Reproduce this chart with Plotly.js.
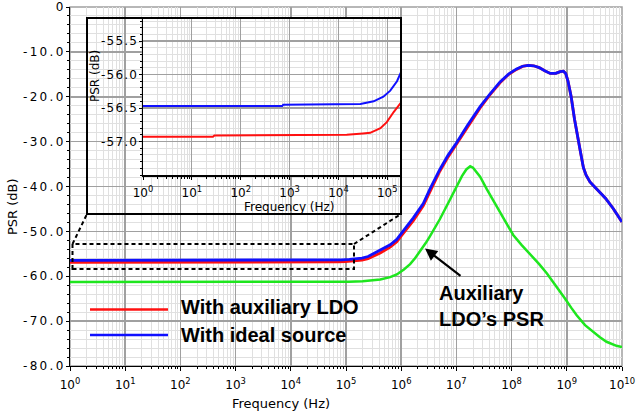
<!DOCTYPE html>
<html>
<head>
<meta charset="utf-8">
<script src="https://cdn.plot.ly/plotly-3.0.1.min.js"></script>
<style>
  html, body { margin: 0; padding: 0; background: #fff; }
  #chart { width: 644px; height: 419px; }
  .ytick text { letter-spacing: 2.3px; }
  .y2tick text { letter-spacing: 1.2px; }
</style>
</head>
<body>
<div id="chart"></div>
<script>
// ---- data (frequency in Hz, PSR in dB) ----
const freqIdeal = [1, 708, 741, 1e4, 2.82e4, 5.25e4, 8.32e4, 1.15e5, 1.58e5, 1.95e5,
  2.51e5, 3.09e5, 4.17e5, 6.31e5, 8.32e5, 1.02e6, 1.26e6, 1.66e6, 2.51e6, 3.31e6,
  5.01e6, 7.08e6, 1e7, 1.58e7, 2.69e7, 3.98e7, 6.17e7, 8.91e7, 1.23e8, 1.58e8,
  2e8, 2.51e8, 3.16e8, 3.98e8, 5.01e8, 6.31e8, 7.59e8, 8.71e8, 9.55e8, 1.05e9,
  1.2e9, 1.38e9, 1.58e9, 1.78e9, 2e9, 2.24e9, 2.63e9, 3.16e9, 3.98e9, 5.01e9,
  6.92e9, 8.32e9, 1e10];
const psrIdeal = [-56.47, -56.47, -56.45, -56.45, -56.44, -56.40, -56.33, -56.24, -56.10, -55.95,
  -55.6, -55.0, -54.2, -53.0, -51.8, -50.3, -48.9, -47.0, -43.8, -40.6,
  -36.2, -33.0, -30.3, -26.4, -22.2, -19.5, -16.7, -14.9, -13.8, -13.2,
  -13.0, -13.1, -13.5, -14.2, -14.8, -14.8, -14.4, -14.3, -14.8, -16.5,
  -20, -25, -29.5, -32.5, -35.8, -37.5, -39.0, -40.0, -41.2, -42.6,
  -44.9, -46.5, -47.9];

const freqAux = [1, 27, 29, 1e4, 1.48e4, 3.16e4, 4.47e4, 7.24e4, 9.77e4, 1.35e5,
  1.95e5, 2.51e5, 3.09e5, 4.17e5, 6.31e5, 8.32e5, 1.02e6, 1.26e6, 1.66e6, 2.51e6,
  3.31e6, 5.01e6, 7.08e6, 1e7, 1.58e7, 2.69e7, 3.98e7, 6.17e7, 8.91e7, 1.23e8,
  1.58e8, 2e8, 2.51e8, 3.16e8, 3.98e8, 5.01e8, 6.31e8, 7.59e8, 8.71e8, 9.55e8,
  1.05e9, 1.2e9, 1.38e9, 1.58e9, 1.78e9, 2e9, 2.24e9, 2.63e9, 3.16e9, 3.98e9,
  5.01e9, 6.92e9, 8.32e9, 1e10];
const psrAux = [-56.93, -56.93, -56.91, -56.91, -56.90, -56.88, -56.87, -56.80, -56.71, -56.56,
  -56.41, -56.1, -55.6, -54.8, -53.5, -52.3, -50.9, -49.5, -47.6, -44.3,
  -41.1, -36.6, -33.4, -30.6, -26.7, -22.5, -19.7, -16.9, -15.0, -13.9,
  -13.25, -13.0, -13.1, -13.5, -14.2, -14.8, -14.8, -14.4, -14.3, -14.8,
  -16.5, -20, -25, -29.5, -32.5, -35.8, -37.5, -39.0, -40.0, -41.2,
  -42.6, -44.9, -46.5, -47.9];

const freqLdo = [1, 1.05e5, 1.12e5, 2e5, 4.17e5, 6.31e5, 8.32e5, 1.12e6, 1.45e6, 1.78e6,
  2.19e6, 2.82e6, 3.31e6, 4.37e6, 5.01e6, 7.59e6, 1e7, 1.26e7, 1.51e7, 1.78e7,
  2e7, 2.69e7, 3.55e7, 5.37e7, 7.59e7, 1.07e8, 1.51e8, 2.14e8, 3.16e8, 4.37e8,
  6.31e8, 9.33e8, 1.2e9, 1.51e9, 2.14e9, 2.95e9, 3.98e9, 5.25e9, 6.46e9, 7.94e9,
  1e10];
const psrLdo = [-61.3, -61.3, -61.2, -61.1, -60.7, -60.2, -59.6, -58.5, -57.3, -56.0,
  -54.5, -52.5, -51.1, -48.5, -47.3, -43.0, -40.0, -37.7, -36.2, -35.5,
  -35.8, -37.8, -40.6, -44.5, -47.9, -50.8, -53.0, -55.0, -57.3, -59.4,
  -62.0, -65.0, -67.0, -68.7, -70.9, -72.4, -73.6, -74.6, -75.1, -75.5,
  -75.8];

const seriesNames = ['With auxiliary LDO', 'With ideal source', "Auxiliary LDO’s PSR"];

// ---- tick labels ----
const xTickVals = [1, 10, 100, 1e3, 1e4, 1e5, 1e6, 1e7, 1e8, 1e9, 1e10];
const xTickText = ['10<sup>0</sup>', '10<sup>1</sup>', '10<sup>2</sup>', '10<sup>3</sup>', '10<sup>4</sup>',
  '10<sup>5</sup>', '10<sup>6</sup>', '10<sup>7</sup>', '10<sup>8</sup>', '10<sup>9</sup>', '10<sup>10</sup>'];
const yTickVals = [0, -10, -20, -30, -40, -50, -60, -70, -80];
const yTickText = ['0', '-10.0', '-20.0', '-30.0', '-40.0', '-50.0', '-60.0', '-70.0', '-80.0'];
const insetXTickVals = [1, 10, 100, 1e3, 1e4, 1e5];
const insetXTickText = ['10<sup>0</sup>', '10<sup>1</sup>', '10<sup>2</sup>', '10<sup>3</sup>', '10<sup>4</sup>', '10<sup>5</sup>'];
const insetYTickVals = [-55.5, -56.0, -56.5, -57.0];
const insetYTickText = ['-55.5', '-56.0', '-56.5', '-57.0'];

// ---- styling ----
const RED = '#ff1010', BLUE = '#1010ff', GREEN = '#1ee61e';
const MAJ = '#a0a0a0', MIN = '#e0e0e0';
const TICKFONT = {family: 'DejaVu Sans', size: 12, color: '#000', weight: 'normal'};
const TITLEFONT = {family: 'DejaVu Sans', size: 13, color: '#000', weight: 'normal'};
const INSETTITLEFONT = {family: 'DejaVu Sans', size: 12, color: '#000', weight: 'normal'};
const BOLDFONT = {family: 'Liberation Sans', size: 20, color: '#000', weight: 'bold'};

const traces = [
  {x: freqLdo, y: psrLdo, name: seriesNames[2], xaxis: 'x', yaxis: 'y', mode: 'lines', line: {color: GREEN, width: 2.5}},
  {x: freqAux, y: psrAux, name: seriesNames[0], xaxis: 'x', yaxis: 'y', mode: 'lines', line: {color: RED, width: 2.8}},
  {x: freqIdeal, y: psrIdeal, name: seriesNames[1], xaxis: 'x', yaxis: 'y', mode: 'lines', line: {color: BLUE, width: 2.8}},
  {x: freqAux, y: psrAux, name: seriesNames[0], xaxis: 'x2', yaxis: 'y2', mode: 'lines', line: {color: RED, width: 2}},
  {x: freqIdeal, y: psrIdeal, name: seriesNames[1], xaxis: 'x2', yaxis: 'y2', mode: 'lines', line: {color: BLUE, width: 2}}
];

function px2paperX(p) { return (p - 70) / 552; }
function px2paperY(p) { return (366 - p) / 359; }

const dash = '4px,3px';
const layout = {
  width: 644, height: 419,
  margin: {l: 70, r: 22, t: 7, b: 53, pad: 0},
  paper_bgcolor: '#fff', plot_bgcolor: '#fff',
  showlegend: false,
  xaxis: {
    type: 'log', range: [0, 10], domain: [0, 1], anchor: 'y',
    tickmode: 'array', tickvals: xTickVals, ticktext: xTickText, tickfont: TICKFONT,
    ticklabelstandoff: 4,
    showgrid: true, gridcolor: MAJ, gridwidth: 1.5,
    showline: true, linecolor: '#000', linewidth: 1,
    ticks: 'outside', ticklen: 4, tickcolor: '#000', tickwidth: 1,
    minor: {dtick: 'D1', showgrid: true, gridcolor: MIN, gridwidth: 1, ticks: 'outside', ticklen: 2, tickcolor: '#000'},
    zeroline: false
  },
  yaxis: {
    range: [-80, 0], domain: [0, 1], anchor: 'x',
    tickmode: 'array', tickvals: yTickVals, ticktext: yTickText, tickfont: TICKFONT,
    ticklabelstandoff: -2,
    showgrid: true, gridcolor: MAJ, gridwidth: 1.5,
    showline: true, linecolor: '#000', linewidth: 1,
    ticks: 'outside', ticklen: 3, tickcolor: '#000',
    minor: {dtick: 2, showgrid: true, gridcolor: MIN, gridwidth: 1, ticks: 'outside', ticklen: 2, tickcolor: '#000'},
    zeroline: false
  },
  xaxis2: {
    type: 'log', range: [0, 5.26], domain: [px2paperX(143), px2paperX(400)], anchor: 'y2',
    tickmode: 'array', tickvals: insetXTickVals, ticktext: insetXTickText, tickfont: TICKFONT,
    ticklabelstandoff: 3,
    showgrid: true, gridcolor: MAJ, gridwidth: 1.2,
    showline: true, linecolor: '#000', linewidth: 1.5,
    ticks: 'outside', ticklen: 3, tickcolor: '#000',
    minor: {dtick: 'D1', showgrid: true, gridcolor: MIN, gridwidth: 1, ticks: 'outside', ticklen: 2, tickcolor: '#000'},
    zeroline: false
  },
  yaxis2: {
    range: [-57.5, -55.17], domain: [px2paperY(175), px2paperY(19)], anchor: 'x2',
    tickmode: 'array', tickvals: insetYTickVals, ticktext: insetYTickText, tickfont: TICKFONT,
    ticklabelstandoff: -2,
    showgrid: true, gridcolor: MAJ, gridwidth: 1.2,
    showline: true, linecolor: '#000', linewidth: 1.5,
    ticks: 'outside', ticklen: 3, tickcolor: '#000',
    minor: {dtick: 0.1, showgrid: true, gridcolor: MIN, gridwidth: 1, ticks: 'outside', ticklen: 2, tickcolor: '#000'},
    zeroline: false
  },
  shapes: [
    {type: 'rect', xref: 'x domain', yref: 'y domain', x0: 0, x1: 1, y0: 0, y1: 1,
     line: {color: MAJ, width: 1.5}, layer: 'below'},
    {type: 'rect', xref: 'x2 domain', yref: 'y2 domain', x0: -0.2179, x1: 1.004, y0: -0.25, y1: 1.0064,
     fillcolor: '#fff', line: {width: 0}, layer: 'below'},
    {type: 'rect', xref: 'paper', yref: 'paper', x0: px2paperX(87), x1: px2paperX(401), y0: px2paperY(214), y1: px2paperY(18),
     line: {color: '#000', width: 2}, layer: 'above'},
    {type: 'rect', xref: 'paper', yref: 'paper', x0: px2paperX(72.5), x1: px2paperX(354), y0: px2paperY(269), y1: px2paperY(244),
     line: {color: '#000', width: 2, dash: dash}, layer: 'above'},
    {type: 'line', xref: 'paper', yref: 'paper', x0: px2paperX(72.5), y0: px2paperY(244), x1: px2paperX(87), y1: px2paperY(214),
     line: {color: '#000', width: 2, dash: dash}, layer: 'above'},
    {type: 'line', xref: 'paper', yref: 'paper', x0: px2paperX(354), y0: px2paperY(244), x1: px2paperX(401), y1: px2paperY(214),
     line: {color: '#000', width: 2, dash: dash}, layer: 'above'},
    {type: 'line', xref: 'paper', yref: 'paper', x0: px2paperX(90), x1: px2paperX(168), y0: px2paperY(309.5), y1: px2paperY(309.5),
     line: {color: RED, width: 2.5}, layer: 'above'},
    {type: 'line', xref: 'paper', yref: 'paper', x0: px2paperX(90), x1: px2paperX(168), y0: px2paperY(335), y1: px2paperY(335),
     line: {color: BLUE, width: 2.5}, layer: 'above'}
  ],
  annotations: [
    {text: 'Frequency (Hz)', xref: 'paper', yref: 'paper', x: px2paperX(281), y: px2paperY(403),
     xanchor: 'center', yanchor: 'middle', showarrow: false, font: TITLEFONT},
    {text: 'PSR (dB)', xref: 'paper', yref: 'paper', x: px2paperX(12), y: px2paperY(207), textangle: -90,
     xanchor: 'center', yanchor: 'middle', showarrow: false, font: TITLEFONT},
    {text: 'Frequency (Hz)', xref: 'paper', yref: 'paper', x: px2paperX(289), y: px2paperY(206.5),
     xanchor: 'center', yanchor: 'middle', showarrow: false, font: INSETTITLEFONT},
    {text: 'PSR (dB)', xref: 'paper', yref: 'paper', x: px2paperX(95), y: px2paperY(76), textangle: -90,
     xanchor: 'center', yanchor: 'middle', showarrow: false, font: INSETTITLEFONT},
    {text: seriesNames[0], xref: 'paper', yref: 'paper', x: px2paperX(179), y: px2paperY(307),
     xanchor: 'left', yanchor: 'middle', showarrow: false, font: BOLDFONT},
    {text: seriesNames[1], xref: 'paper', yref: 'paper', x: px2paperX(179), y: px2paperY(334.5),
     xanchor: 'left', yanchor: 'middle', showarrow: false, font: BOLDFONT},
    {text: 'Auxiliary<br>LDO’s PSR', xref: 'paper', yref: 'paper', x: px2paperX(437), y: px2paperY(306),
     xanchor: 'left', yanchor: 'middle', align: 'left', showarrow: false, font: BOLDFONT},
    {text: '', xref: 'paper', yref: 'paper', x: px2paperX(425), y: px2paperY(248.5),
     showarrow: true, ax: 37, ay: 28.5, arrowhead: 2, arrowsize: 1.1, arrowwidth: 2.2, arrowcolor: '#000', standoff: 0}
  ]
};

Plotly.newPlot('chart', traces, layout, {staticPlot: true, displayModeBar: false});
</script>
</body>
</html>
